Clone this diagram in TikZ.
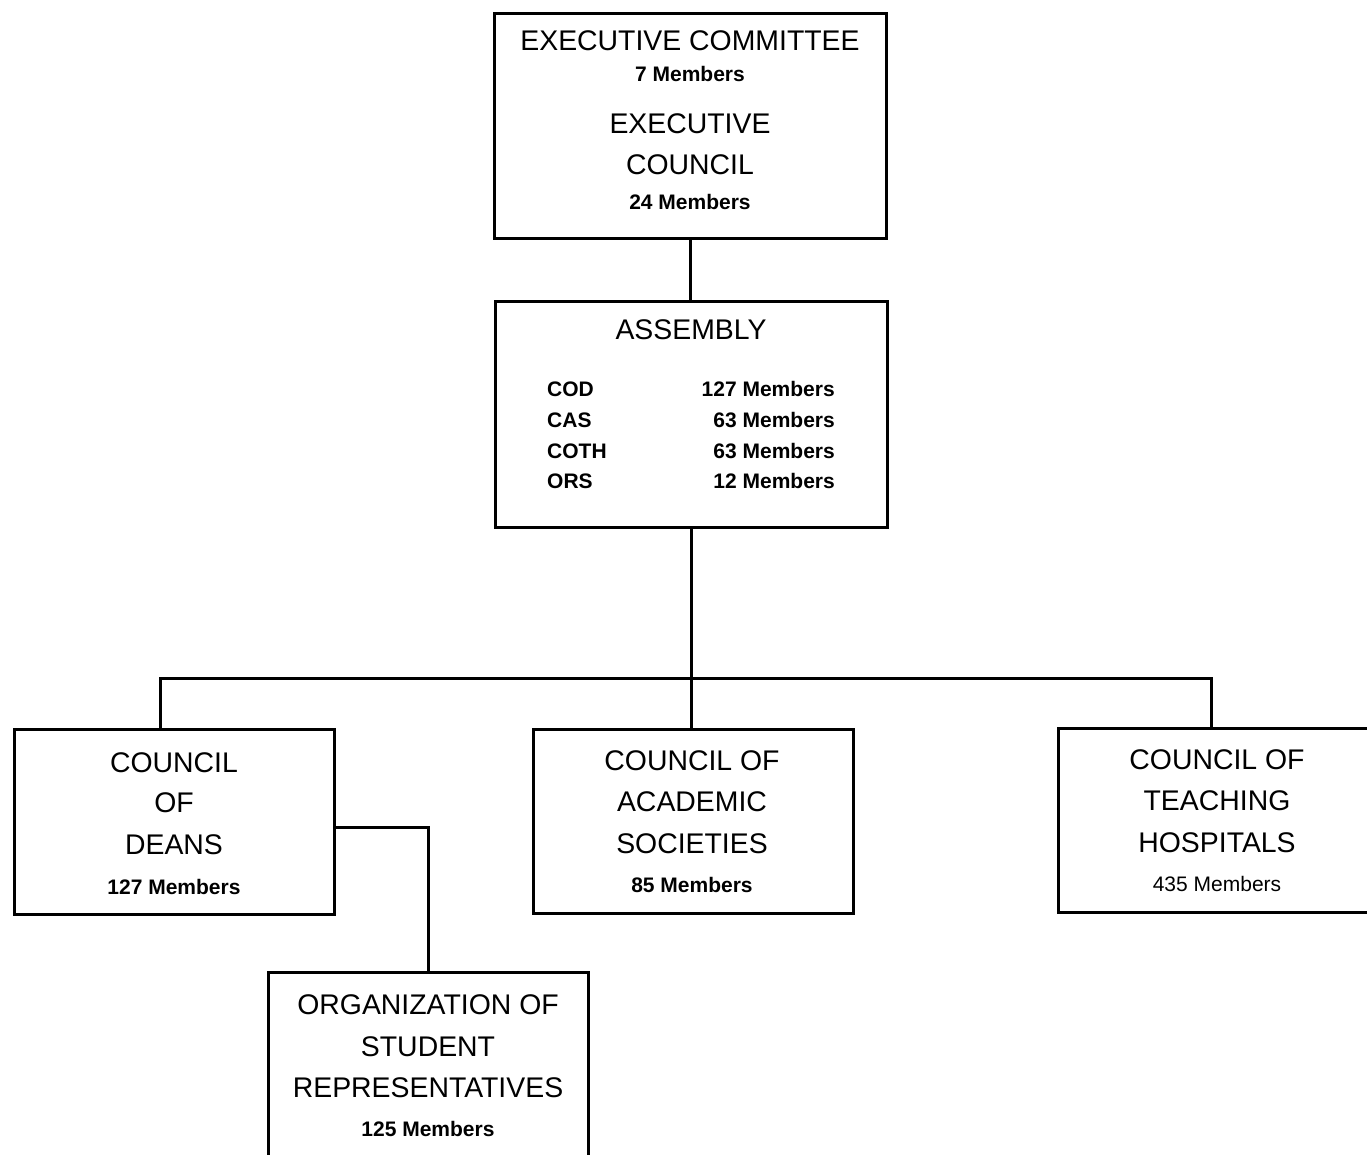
\documentclass[tikz,border=0pt]{standalone}
\usepackage{fontspec}
\setmainfont{Liberation Sans}
\begin{document}
\begin{tikzpicture}[x=1pt,y=-1pt,
  box/.style={draw, line width=3pt, minimum width=#1, inner sep=0pt},
  big/.style={anchor=base, inner sep=0pt, font=\fontsize{28.4}{30}\selectfont},
  small/.style={anchor=base, inner sep=0pt, font=\fontsize{21}{22}\selectfont\bfseries},
  smallreg/.style={anchor=base, inner sep=0pt, font=\fontsize{21}{22}\selectfont},
  conn/.style={line width=3pt}]
\clip (0,0) rectangle (1367,1154);
\fill[white] (0,0) rectangle (1367,1154);

% boxes
\node[box=392pt, minimum height=225pt] (exec) at (690,125.5) {};
\node[box=392pt, minimum height=226pt] (asm) at (691,414) {};
\node[box=320pt, minimum height=185pt] (cod) at (174,821.5) {};
\node[box=320pt, minimum height=184pt] (cas) at (693,821) {};
\node[box=320pt, minimum height=184pt] (coth) at (1218,820) {};
\node[box=320pt, minimum height=185pt] (osr) at (428,1064.5) {};

% executive texts
\node[big] (e1) at (690,50) {EXECUTIVE COMMITTEE};
\node[small] (e2) at (690,81) {7 Members};
\node[big] (e3) at (690,133) {EXECUTIVE};
\node[big] (e4) at (690,174) {COUNCIL};
\node[small] (e5) at (690,209) {24 Members};

% assembly texts
\node[big] (a0) at (691,339) {ASSEMBLY};
\node[small, anchor=base west] (a1l) at (547,396) {COD};
\node[small, anchor=base west] (a2l) at (547,427) {CAS};
\node[small, anchor=base west] (a3l) at (547,458) {COTH};
\node[small, anchor=base west] (a4l) at (547,488) {ORS};
\node[small, anchor=base east] (a1r) at (835,396) {127 Members};
\node[small, anchor=base east] (a2r) at (835,427) {63 Members};
\node[small, anchor=base east] (a3r) at (835,458) {63 Members};
\node[small, anchor=base east] (a4r) at (835,488) {12 Members};

% council of deans
\node[big] (d1) at (174,772) {COUNCIL};
\node[big] (d2) at (174,812) {OF};
\node[big] (d3) at (174,854) {DEANS};
\node[small] (d4) at (174,894) {127 Members};

% council of academic societies
\node[big] (c1) at (692,770) {COUNCIL OF};
\node[big] (c2) at (692,811) {ACADEMIC};
\node[big] (c3) at (692,853) {SOCIETIES};
\node[small] (c4) at (692,892) {85 Members};

% council of teaching hospitals
\node[big] (h1) at (1217,769) {COUNCIL OF};
\node[big] (h2) at (1217,810) {TEACHING};
\node[big] (h3) at (1217,852) {HOSPITALS};
\node[smallreg] (h4) at (1217,891) {435 Members};

% organization of student representatives
\node[big] (o1) at (428,1014) {ORGANIZATION OF};
\node[big] (o2) at (428,1056) {STUDENT};
\node[big] (o3) at (428,1097) {REPRESENTATIVES};
\node[small] (o4) at (428,1136) {125 Members};

% connectors
\coordinate (busL) at (160,678);
\coordinate (busR) at (1211,678);
\draw[conn] (exec.south) -- (exec.south |- asm.north);
\draw[conn] (asm.south) -- (asm.south |- cas.north);
\draw[conn, line cap=rect] (busL) -- (busR);
\draw[conn] (busL) -- (busL |- cod.north);
\draw[conn] (busR) -- (busR |- coth.north);
\draw[conn] ([yshift=-5.5pt]cod.east) -| (osr.north);
\end{tikzpicture}
\end{document}
